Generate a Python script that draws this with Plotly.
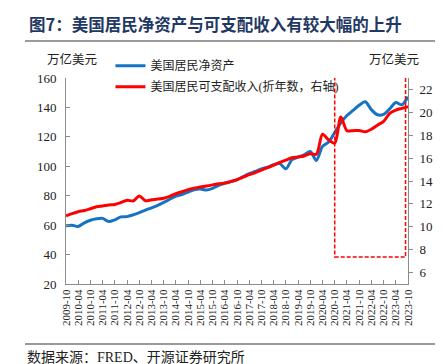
import plotly.graph_objects as go

# quarterly categories 2009-10 ... 2023-10
months = ["01", "04", "07", "10"]
dates = ["2009-10"] + [f"{y}-{m}" for y in range(2010, 2024) for m in months]

net_worth = [59.5, 59.9, 59.1, 61.5, 63.3, 64.3, 64.6, 62.4, 63.6, 65.6,
             65.8, 67.0, 68.5, 70.2, 71.8, 73.5, 75.5, 77.6, 79.7, 80.8,
             82.5, 84.1, 84.6, 83.8, 85.0, 87.0, 88.5, 89.6, 90.8, 93.0,
             95.0, 96.5, 98.2, 99.4, 101.0, 101.8, 98.3, 104.5, 106.2, 107.8,
             110.0, 104.0, 113.5, 116.5, 123.0, 129.5, 134.5, 138.0, 141.5, 143.8,
             138.5, 135.0, 135.3, 139.0, 143.3, 141.8, 147.3]

disp_income = [10.95, 11.15, 11.32, 11.42, 11.58, 11.75, 11.82, 11.9, 11.95, 12.12,
               12.32, 12.25, 12.7, 12.28, 12.36, 12.42, 12.5, 12.66, 12.9, 13.06,
               13.25, 13.38, 13.48, 13.56, 13.66, 13.77, 13.82, 13.96, 14.12, 14.33,
               14.55, 14.74, 14.95, 15.16, 15.38, 15.62, 15.82, 16.03, 16.1, 16.19,
               16.38, 16.33, 18.08, 17.6, 17.3, 19.6, 18.4, 18.4, 18.42, 18.3,
               18.52, 18.88, 19.2, 19.9, 20.2, 20.35, 20.5]

tick_labels = dates[::2]

name_nw = "美国居民净资产"
name_di = "美国居民可支配收入(折年数，右轴)"
title = "图7：美国居民净资产与可支配收入有较大幅的上升"
unit = "万亿美元"
source = "数据来源：FRED、开源证券研究所"

SERIF = "Liberation Serif, Noto Sans CJK SC"
CJK = "Noto Sans CJK SC"

fig = go.Figure()
fig.add_trace(go.Scatter(x=dates, y=net_worth, name=name_nw, mode="lines",
                         line=dict(color="#1673C3", width=3, shape="spline", smoothing=0.8),
                         legendgroup="a"))
fig.add_trace(go.Scatter(x=dates, y=disp_income, name=name_di, mode="lines",
                         line=dict(color="#FF0000", width=3, shape="spline", smoothing=0.8),
                         yaxis="y2", legendgroup="b"))

# highlight box
fig.add_shape(type="rect", xref="x", yref="y2", x0=44, x1=55.6, y0=7.35, y1=23.2,
              line=dict(color="#FF0000", width=1.5, dash="4px,2px"), fillcolor="rgba(0,0,0,0)")

axis_line = "#8C8C8C"
fig.update_layout(
    width=443, height=364,
    margin=dict(l=58, r=43, t=70, b=88, autoexpand=False),
    paper_bgcolor="white", plot_bgcolor="white",
    showlegend=True,
    legend=dict(x=0.13, y=1.13, xanchor="left", yanchor="top",
                font=dict(family=SERIF, size=12, color="#222"),
                bgcolor="rgba(0,0,0,0)", tracegroupgap=2, itemwidth=30),
    xaxis=dict(type="category", range=[0, 56], tickmode="array",
               tickvals=tick_labels, ticktext=tick_labels, tickangle=-90,
               tickfont=dict(family=SERIF, size=11, color="#222"),
               showline=True, linecolor=axis_line, linewidth=1,
               ticks="inside", ticklen=4, tickcolor=axis_line,
               showgrid=False, zeroline=False, automargin=False),
    yaxis=dict(range=[20, 160], dtick=20, tickfont=dict(family=SERIF, size=13, color="#222"),
               showline=True, linecolor=axis_line, linewidth=1,
               ticks="inside", ticklen=4, tickcolor=axis_line,
               showgrid=False, zeroline=False, ticklabelstandoff=6, automargin=False),
    yaxis2=dict(range=[5, 23], dtick=2, overlaying="y", side="right",
                tickfont=dict(family=SERIF, size=13, color="#222"),
                showline=True, linecolor=axis_line, linewidth=1,
                ticks="outside", ticklen=4, tickcolor=axis_line,
                showgrid=False, zeroline=False, ticklabelstandoff=4, automargin=False),
)

anns = [
    dict(text=f"<b>{title}</b>", x=19, y=16, font=dict(family=CJK, size=16.5, color="#1F3864"),
         xanchor="left"),
    dict(text=unit, x=64, y=51, font=dict(family=SERIF, size=12.5, color="#222"), xanchor="center"),
    dict(text=unit, x=386, y=51, font=dict(family=SERIF, size=12.5, color="#222"), xanchor="center"),
    dict(text=source, x=17, y=349, font=dict(family=SERIF, size=14, color="#222"), xanchor="left"),
]
for a in anns:
    fig.add_annotation(text=a["text"], xref="paper", yref="paper",
                       x=(a["x"] - 58) / 342, y=1 - (a["y"] - 70) / 206,
                       xanchor=a["xanchor"], yanchor="middle", showarrow=False, font=a["font"])

# separator lines
for yy in (33, 336):
    fig.add_shape(type="line", xref="paper", yref="paper",
                  x0=(17 - 58) / 342, x1=(428 - 58) / 342,
                  y0=1 - (yy - 70) / 206, y1=1 - (yy - 70) / 206,
                  line=dict(color="#9A9A9A", width=2))

fig.write_html("out.html")
